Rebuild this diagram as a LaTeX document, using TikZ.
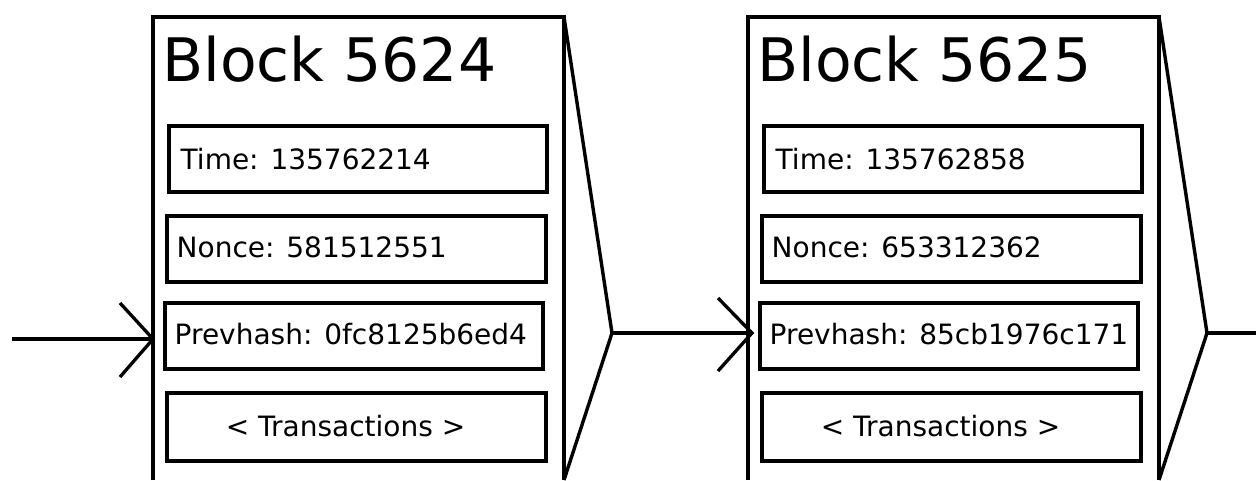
\documentclass[tikz,border=0pt]{standalone}
\usepackage{fontspec}
\setmainfont{DejaVu Sans}
\newcommand\drawblock[6]{%
  % #1 prefix, #2 x shift, #3 title, #4 time, #5 nonce, #6 prevhash
  \begin{scope}[xshift=#2pt]
    \coordinate (#1bl) at (153,480);
    \coordinate (#1tl) at (153,17);
    \coordinate (#1tr) at (564,17);
    \coordinate (#1br) at (564,480);
    \coordinate (#1tip) at (612,333);
    \draw[frame] (#1bl) -- (#1tl) -- (#1tr) -- (#1br);
    \draw[frame] (#1tr) -- (#1tip) -- (#1br);
    \node[ttext] (#1title) at (162,81) {#3};
    \node[field, minimum width=378pt, minimum height=66pt] (#1time) at (358,159) {};
    \node[field, minimum width=379pt, minimum height=66pt] (#1nonce) at (356.5,249) {};
    \node[field, minimum width=378pt, minimum height=66pt] (#1prev) at (354,336) {};
    \node[field, minimum width=379pt, minimum height=68pt] (#1trans) at (356.5,427) {};
    \node[ftext] (#1timet) at (180.5,169) {Time: #4};
    \node[ftext] (#1noncet) at (176.5,257) {Nonce: #5};
    \node[ftext] (#1prevt) at (174.5,344) {Prevhash: #6};
    \node[ftext, anchor=base] (#1transt) at (345.5,436) {< Transactions >};
  \end{scope}%
}
\begin{document}
\begin{tikzpicture}[x=1pt,y=-1pt,
  frame/.style={line width=3.4pt, line join=miter},
  field/.style={draw, line width=4pt, inner sep=0pt},
  ftext/.style={font=\fontsize{28}{32}\selectfont, inner sep=0pt, anchor=base west},
  ttext/.style={font=\fontsize{60}{68}\selectfont, inner sep=0pt, anchor=base west},
  link/.style={line width=3.3pt},
]
\useasboundingbox (0,0) rectangle (1256,480);
\clip (0,0) rectangle (1256,480);
\fill[white] (0,0) rectangle (1256,480);

\drawblock{a}{0}{Block 5624}{135762214}{581512551}{0fc8125b6ed4}
\drawblock{b}{595}{Block 5625}{135762858}{653312362}{85cb1976c171}

% incoming link into block 5624
\coordinate (start) at (12,339);
\coordinate (ain) at (153,339);
\draw[link] (start) -- (ain);
\draw[link] (ain) ++(-33,-36) -- (ain) -- ++(-33,38);

% link from block 5624 to block 5625
\coordinate (bin) at (752,333);
\draw[link] (atip) -- (bin);
\draw[link] (bin) ++(-34,-35) -- (bin) -- ++(-34,38);

% outgoing link from block 5625
\coordinate (out) at (1262,333);
\draw[link] (btip) -- (out);
\end{tikzpicture}
\end{document}
